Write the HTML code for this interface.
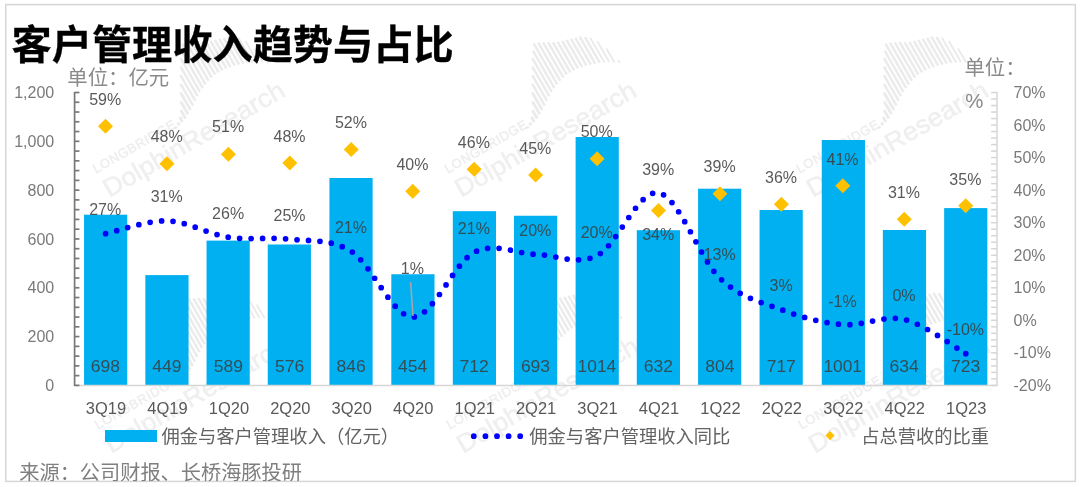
<!DOCTYPE html>
<html lang="zh-CN"><head><meta charset="utf-8"><title>客户管理收入趋势与占比</title>
<style>
html,body{margin:0;padding:0;background:#fff;}
body{width:1080px;height:487px;overflow:hidden;font-family:"Liberation Sans", "Noto Sans CJK SC", sans-serif;}
svg{display:block;}
svg text{font-family:"Liberation Sans", "Noto Sans CJK SC", sans-serif;}
.ttl{font-size:40.2px;font-weight:bold;fill:#000;stroke:#000;stroke-width:0.3px;}
.unit{font-size:20.4px;fill:#8a8a8a;}
.ax{font-size:16px;fill:#7a7a7a;}
.cat{font-size:16px;fill:#595959;}
.dl{font-size:16px;fill:#3c3c3c;fill-opacity:0.85;}
.vl{font-size:16px;fill:#3c3c3c;fill-opacity:0.85;}
.lg{font-size:18.3px;fill:#636363;}
.src{font-size:20.2px;fill:#7f7f7f;}
.wm text{fill:#efefef;}
.wm line{stroke:#ebebeb;}
</style></head><body>
<svg width="1080" height="487" viewBox="0 0 1080 487">
<rect x="0" y="0" width="1080" height="487" fill="#ffffff"/>
<defs><clipPath id="frameclip"><rect x="5" y="4" width="1071" height="477.3"/></clipPath>
</defs>
<g clip-path="url(#frameclip)">
<g class="wm" transform="translate(105.0 194.5) rotate(-30)">
<text x="2.6" y="-22.5" font-size="13" textLength="93" lengthAdjust="spacing" fill="#ececec" stroke="#ececec" stroke-width="0.4">LONGBRIDGE</text>
<text x="2" y="5" font-size="25.5" textLength="205" lengthAdjust="spacingAndGlyphs" stroke="#efefef" stroke-width="0.5">DolphinResearch</text>
<line x1="94.8" y1="-23.7" x2="94.8" y2="-21.5" stroke-width="2.9"/>
<line x1="99.1" y1="-25.9" x2="99.1" y2="-22.7" stroke-width="2.9"/>
<line x1="103.4" y1="-29.7" x2="103.4" y2="-23.9" stroke-width="2.9"/>
<line x1="107.7" y1="-35.0" x2="107.7" y2="-25.5" stroke-width="2.9"/>
<line x1="112.1" y1="-42.7" x2="112.1" y2="-28.0" stroke-width="2.9"/>
<line x1="116.4" y1="-50.5" x2="116.4" y2="-30.4" stroke-width="2.9"/>
<line x1="120.7" y1="-58.0" x2="120.7" y2="-32.9" stroke-width="2.5"/>
<line x1="125.0" y1="-65.6" x2="125.0" y2="-35.8" stroke-width="2.5"/>
<line x1="129.3" y1="-72.9" x2="129.3" y2="-38.8" stroke-width="2.5"/>
<line x1="133.6" y1="-80.2" x2="133.6" y2="-41.4" stroke-width="2.5"/>
<line x1="137.9" y1="-86.5" x2="137.9" y2="-43.3" stroke-width="2.5"/>
<line x1="142.2" y1="-92.2" x2="142.2" y2="-45.2" stroke-width="2.5"/>
<line x1="146.6" y1="-90.8" x2="146.6" y2="-46.7" stroke-width="2.5"/>
<line x1="150.9" y1="-88.6" x2="150.9" y2="-47.7" stroke-width="2.5"/>
<line x1="155.2" y1="-86.2" x2="155.2" y2="-48.7" stroke-width="2.5"/>
<line x1="159.5" y1="-83.7" x2="159.5" y2="-48.9" stroke-width="2.5"/>
<line x1="163.8" y1="-81.8" x2="163.8" y2="-48.9" stroke-width="2.5"/>
<line x1="168.1" y1="-80.3" x2="168.1" y2="-48.5" stroke-width="2.5"/>
<line x1="172.4" y1="-78.9" x2="172.4" y2="-47.6" stroke-width="2.5"/>
<line x1="176.8" y1="-77.7" x2="176.8" y2="-46.7" stroke-width="2.5"/>
<line x1="181.1" y1="-76.4" x2="181.1" y2="-45.4" stroke-width="2.5"/>
<line x1="185.4" y1="-75.2" x2="185.4" y2="-44.1" stroke-width="2.5"/>
<line x1="189.7" y1="-72.1" x2="189.7" y2="-42.4" stroke-width="2.5"/>
<line x1="194.0" y1="-69.0" x2="194.0" y2="-40.5" stroke-width="1.9"/>
<line x1="198.3" y1="-62.7" x2="198.3" y2="-38.4" stroke-width="1.9"/>
<line x1="202.6" y1="-51.6" x2="202.6" y2="-35.4" stroke-width="1.9"/>
<line x1="206.9" y1="-35.7" x2="206.9" y2="-32.4" stroke-width="1.9"/>
</g>
<g class="wm" transform="translate(456.7 194.5) rotate(-30)">
<text x="2.6" y="-22.5" font-size="13" textLength="93" lengthAdjust="spacing" fill="#ececec" stroke="#ececec" stroke-width="0.4">LONGBRIDGE</text>
<text x="2" y="5" font-size="25.5" textLength="205" lengthAdjust="spacingAndGlyphs" stroke="#efefef" stroke-width="0.5">DolphinResearch</text>
<line x1="94.8" y1="-23.7" x2="94.8" y2="-21.5" stroke-width="2.9"/>
<line x1="99.1" y1="-25.9" x2="99.1" y2="-22.7" stroke-width="2.9"/>
<line x1="103.4" y1="-29.7" x2="103.4" y2="-23.9" stroke-width="2.9"/>
<line x1="107.7" y1="-35.0" x2="107.7" y2="-25.5" stroke-width="2.9"/>
<line x1="112.1" y1="-42.7" x2="112.1" y2="-28.0" stroke-width="2.9"/>
<line x1="116.4" y1="-50.5" x2="116.4" y2="-30.4" stroke-width="2.9"/>
<line x1="120.7" y1="-58.0" x2="120.7" y2="-32.9" stroke-width="2.5"/>
<line x1="125.0" y1="-65.6" x2="125.0" y2="-35.8" stroke-width="2.5"/>
<line x1="129.3" y1="-72.9" x2="129.3" y2="-38.8" stroke-width="2.5"/>
<line x1="133.6" y1="-80.2" x2="133.6" y2="-41.4" stroke-width="2.5"/>
<line x1="137.9" y1="-86.5" x2="137.9" y2="-43.3" stroke-width="2.5"/>
<line x1="142.2" y1="-92.2" x2="142.2" y2="-45.2" stroke-width="2.5"/>
<line x1="146.6" y1="-90.8" x2="146.6" y2="-46.7" stroke-width="2.5"/>
<line x1="150.9" y1="-88.6" x2="150.9" y2="-47.7" stroke-width="2.5"/>
<line x1="155.2" y1="-86.2" x2="155.2" y2="-48.7" stroke-width="2.5"/>
<line x1="159.5" y1="-83.7" x2="159.5" y2="-48.9" stroke-width="2.5"/>
<line x1="163.8" y1="-81.8" x2="163.8" y2="-48.9" stroke-width="2.5"/>
<line x1="168.1" y1="-80.3" x2="168.1" y2="-48.5" stroke-width="2.5"/>
<line x1="172.4" y1="-78.9" x2="172.4" y2="-47.6" stroke-width="2.5"/>
<line x1="176.8" y1="-77.7" x2="176.8" y2="-46.7" stroke-width="2.5"/>
<line x1="181.1" y1="-76.4" x2="181.1" y2="-45.4" stroke-width="2.5"/>
<line x1="185.4" y1="-75.2" x2="185.4" y2="-44.1" stroke-width="2.5"/>
<line x1="189.7" y1="-72.1" x2="189.7" y2="-42.4" stroke-width="2.5"/>
<line x1="194.0" y1="-69.0" x2="194.0" y2="-40.5" stroke-width="1.9"/>
<line x1="198.3" y1="-62.7" x2="198.3" y2="-38.4" stroke-width="1.9"/>
<line x1="202.6" y1="-51.6" x2="202.6" y2="-35.4" stroke-width="1.9"/>
<line x1="206.9" y1="-35.7" x2="206.9" y2="-32.4" stroke-width="1.9"/>
</g>
<g class="wm" transform="translate(808.4 194.5) rotate(-30)">
<text x="2.6" y="-22.5" font-size="13" textLength="93" lengthAdjust="spacing" fill="#ececec" stroke="#ececec" stroke-width="0.4">LONGBRIDGE</text>
<text x="2" y="5" font-size="25.5" textLength="205" lengthAdjust="spacingAndGlyphs" stroke="#efefef" stroke-width="0.5">DolphinResearch</text>
<line x1="94.8" y1="-23.7" x2="94.8" y2="-21.5" stroke-width="2.9"/>
<line x1="99.1" y1="-25.9" x2="99.1" y2="-22.7" stroke-width="2.9"/>
<line x1="103.4" y1="-29.7" x2="103.4" y2="-23.9" stroke-width="2.9"/>
<line x1="107.7" y1="-35.0" x2="107.7" y2="-25.5" stroke-width="2.9"/>
<line x1="112.1" y1="-42.7" x2="112.1" y2="-28.0" stroke-width="2.9"/>
<line x1="116.4" y1="-50.5" x2="116.4" y2="-30.4" stroke-width="2.9"/>
<line x1="120.7" y1="-58.0" x2="120.7" y2="-32.9" stroke-width="2.5"/>
<line x1="125.0" y1="-65.6" x2="125.0" y2="-35.8" stroke-width="2.5"/>
<line x1="129.3" y1="-72.9" x2="129.3" y2="-38.8" stroke-width="2.5"/>
<line x1="133.6" y1="-80.2" x2="133.6" y2="-41.4" stroke-width="2.5"/>
<line x1="137.9" y1="-86.5" x2="137.9" y2="-43.3" stroke-width="2.5"/>
<line x1="142.2" y1="-92.2" x2="142.2" y2="-45.2" stroke-width="2.5"/>
<line x1="146.6" y1="-90.8" x2="146.6" y2="-46.7" stroke-width="2.5"/>
<line x1="150.9" y1="-88.6" x2="150.9" y2="-47.7" stroke-width="2.5"/>
<line x1="155.2" y1="-86.2" x2="155.2" y2="-48.7" stroke-width="2.5"/>
<line x1="159.5" y1="-83.7" x2="159.5" y2="-48.9" stroke-width="2.5"/>
<line x1="163.8" y1="-81.8" x2="163.8" y2="-48.9" stroke-width="2.5"/>
<line x1="168.1" y1="-80.3" x2="168.1" y2="-48.5" stroke-width="2.5"/>
<line x1="172.4" y1="-78.9" x2="172.4" y2="-47.6" stroke-width="2.5"/>
<line x1="176.8" y1="-77.7" x2="176.8" y2="-46.7" stroke-width="2.5"/>
<line x1="181.1" y1="-76.4" x2="181.1" y2="-45.4" stroke-width="2.5"/>
<line x1="185.4" y1="-75.2" x2="185.4" y2="-44.1" stroke-width="2.5"/>
<line x1="189.7" y1="-72.1" x2="189.7" y2="-42.4" stroke-width="2.5"/>
<line x1="194.0" y1="-69.0" x2="194.0" y2="-40.5" stroke-width="1.9"/>
<line x1="198.3" y1="-62.7" x2="198.3" y2="-38.4" stroke-width="1.9"/>
<line x1="202.6" y1="-51.6" x2="202.6" y2="-35.4" stroke-width="1.9"/>
<line x1="206.9" y1="-35.7" x2="206.9" y2="-32.4" stroke-width="1.9"/>
</g>
<g class="wm" transform="translate(107.0 450.5) rotate(-30)">
<text x="2.6" y="-22.5" font-size="13" textLength="93" lengthAdjust="spacing" fill="#ececec" stroke="#ececec" stroke-width="0.4">LONGBRIDGE</text>
<text x="2" y="5" font-size="25.5" textLength="205" lengthAdjust="spacingAndGlyphs" stroke="#efefef" stroke-width="0.5">DolphinResearch</text>
<line x1="94.8" y1="-23.7" x2="94.8" y2="-21.5" stroke-width="2.9"/>
<line x1="99.1" y1="-25.9" x2="99.1" y2="-22.7" stroke-width="2.9"/>
<line x1="103.4" y1="-29.7" x2="103.4" y2="-23.9" stroke-width="2.9"/>
<line x1="107.7" y1="-35.0" x2="107.7" y2="-25.5" stroke-width="2.9"/>
<line x1="112.1" y1="-42.7" x2="112.1" y2="-28.0" stroke-width="2.9"/>
<line x1="116.4" y1="-50.5" x2="116.4" y2="-30.4" stroke-width="2.9"/>
<line x1="120.7" y1="-58.0" x2="120.7" y2="-32.9" stroke-width="2.5"/>
<line x1="125.0" y1="-65.6" x2="125.0" y2="-35.8" stroke-width="2.5"/>
<line x1="129.3" y1="-72.9" x2="129.3" y2="-38.8" stroke-width="2.5"/>
<line x1="133.6" y1="-80.2" x2="133.6" y2="-41.4" stroke-width="2.5"/>
<line x1="137.9" y1="-86.5" x2="137.9" y2="-43.3" stroke-width="2.5"/>
<line x1="142.2" y1="-92.2" x2="142.2" y2="-45.2" stroke-width="2.5"/>
<line x1="146.6" y1="-90.8" x2="146.6" y2="-46.7" stroke-width="2.5"/>
<line x1="150.9" y1="-88.6" x2="150.9" y2="-47.7" stroke-width="2.5"/>
<line x1="155.2" y1="-86.2" x2="155.2" y2="-48.7" stroke-width="2.5"/>
<line x1="159.5" y1="-83.7" x2="159.5" y2="-48.9" stroke-width="2.5"/>
<line x1="163.8" y1="-81.8" x2="163.8" y2="-48.9" stroke-width="2.5"/>
<line x1="168.1" y1="-80.3" x2="168.1" y2="-48.5" stroke-width="2.5"/>
<line x1="172.4" y1="-78.9" x2="172.4" y2="-47.6" stroke-width="2.5"/>
<line x1="176.8" y1="-77.7" x2="176.8" y2="-46.7" stroke-width="2.5"/>
<line x1="181.1" y1="-76.4" x2="181.1" y2="-45.4" stroke-width="2.5"/>
<line x1="185.4" y1="-75.2" x2="185.4" y2="-44.1" stroke-width="2.5"/>
<line x1="189.7" y1="-72.1" x2="189.7" y2="-42.4" stroke-width="2.5"/>
<line x1="194.0" y1="-69.0" x2="194.0" y2="-40.5" stroke-width="1.9"/>
<line x1="198.3" y1="-62.7" x2="198.3" y2="-38.4" stroke-width="1.9"/>
<line x1="202.6" y1="-51.6" x2="202.6" y2="-35.4" stroke-width="1.9"/>
<line x1="206.9" y1="-35.7" x2="206.9" y2="-32.4" stroke-width="1.9"/>
</g>
<g class="wm" transform="translate(458.7 450.5) rotate(-30)">
<text x="2.6" y="-22.5" font-size="13" textLength="93" lengthAdjust="spacing" fill="#ececec" stroke="#ececec" stroke-width="0.4">LONGBRIDGE</text>
<text x="2" y="5" font-size="25.5" textLength="205" lengthAdjust="spacingAndGlyphs" stroke="#efefef" stroke-width="0.5">DolphinResearch</text>
<line x1="94.8" y1="-23.7" x2="94.8" y2="-21.5" stroke-width="2.9"/>
<line x1="99.1" y1="-25.9" x2="99.1" y2="-22.7" stroke-width="2.9"/>
<line x1="103.4" y1="-29.7" x2="103.4" y2="-23.9" stroke-width="2.9"/>
<line x1="107.7" y1="-35.0" x2="107.7" y2="-25.5" stroke-width="2.9"/>
<line x1="112.1" y1="-42.7" x2="112.1" y2="-28.0" stroke-width="2.9"/>
<line x1="116.4" y1="-50.5" x2="116.4" y2="-30.4" stroke-width="2.9"/>
<line x1="120.7" y1="-58.0" x2="120.7" y2="-32.9" stroke-width="2.5"/>
<line x1="125.0" y1="-65.6" x2="125.0" y2="-35.8" stroke-width="2.5"/>
<line x1="129.3" y1="-72.9" x2="129.3" y2="-38.8" stroke-width="2.5"/>
<line x1="133.6" y1="-80.2" x2="133.6" y2="-41.4" stroke-width="2.5"/>
<line x1="137.9" y1="-86.5" x2="137.9" y2="-43.3" stroke-width="2.5"/>
<line x1="142.2" y1="-92.2" x2="142.2" y2="-45.2" stroke-width="2.5"/>
<line x1="146.6" y1="-90.8" x2="146.6" y2="-46.7" stroke-width="2.5"/>
<line x1="150.9" y1="-88.6" x2="150.9" y2="-47.7" stroke-width="2.5"/>
<line x1="155.2" y1="-86.2" x2="155.2" y2="-48.7" stroke-width="2.5"/>
<line x1="159.5" y1="-83.7" x2="159.5" y2="-48.9" stroke-width="2.5"/>
<line x1="163.8" y1="-81.8" x2="163.8" y2="-48.9" stroke-width="2.5"/>
<line x1="168.1" y1="-80.3" x2="168.1" y2="-48.5" stroke-width="2.5"/>
<line x1="172.4" y1="-78.9" x2="172.4" y2="-47.6" stroke-width="2.5"/>
<line x1="176.8" y1="-77.7" x2="176.8" y2="-46.7" stroke-width="2.5"/>
<line x1="181.1" y1="-76.4" x2="181.1" y2="-45.4" stroke-width="2.5"/>
<line x1="185.4" y1="-75.2" x2="185.4" y2="-44.1" stroke-width="2.5"/>
<line x1="189.7" y1="-72.1" x2="189.7" y2="-42.4" stroke-width="2.5"/>
<line x1="194.0" y1="-69.0" x2="194.0" y2="-40.5" stroke-width="1.9"/>
<line x1="198.3" y1="-62.7" x2="198.3" y2="-38.4" stroke-width="1.9"/>
<line x1="202.6" y1="-51.6" x2="202.6" y2="-35.4" stroke-width="1.9"/>
<line x1="206.9" y1="-35.7" x2="206.9" y2="-32.4" stroke-width="1.9"/>
</g>
<g class="wm" transform="translate(810.4 450.5) rotate(-30)">
<text x="2.6" y="-22.5" font-size="13" textLength="93" lengthAdjust="spacing" fill="#ececec" stroke="#ececec" stroke-width="0.4">LONGBRIDGE</text>
<text x="2" y="5" font-size="25.5" textLength="205" lengthAdjust="spacingAndGlyphs" stroke="#efefef" stroke-width="0.5">DolphinResearch</text>
<line x1="94.8" y1="-23.7" x2="94.8" y2="-21.5" stroke-width="2.9"/>
<line x1="99.1" y1="-25.9" x2="99.1" y2="-22.7" stroke-width="2.9"/>
<line x1="103.4" y1="-29.7" x2="103.4" y2="-23.9" stroke-width="2.9"/>
<line x1="107.7" y1="-35.0" x2="107.7" y2="-25.5" stroke-width="2.9"/>
<line x1="112.1" y1="-42.7" x2="112.1" y2="-28.0" stroke-width="2.9"/>
<line x1="116.4" y1="-50.5" x2="116.4" y2="-30.4" stroke-width="2.9"/>
<line x1="120.7" y1="-58.0" x2="120.7" y2="-32.9" stroke-width="2.5"/>
<line x1="125.0" y1="-65.6" x2="125.0" y2="-35.8" stroke-width="2.5"/>
<line x1="129.3" y1="-72.9" x2="129.3" y2="-38.8" stroke-width="2.5"/>
<line x1="133.6" y1="-80.2" x2="133.6" y2="-41.4" stroke-width="2.5"/>
<line x1="137.9" y1="-86.5" x2="137.9" y2="-43.3" stroke-width="2.5"/>
<line x1="142.2" y1="-92.2" x2="142.2" y2="-45.2" stroke-width="2.5"/>
<line x1="146.6" y1="-90.8" x2="146.6" y2="-46.7" stroke-width="2.5"/>
<line x1="150.9" y1="-88.6" x2="150.9" y2="-47.7" stroke-width="2.5"/>
<line x1="155.2" y1="-86.2" x2="155.2" y2="-48.7" stroke-width="2.5"/>
<line x1="159.5" y1="-83.7" x2="159.5" y2="-48.9" stroke-width="2.5"/>
<line x1="163.8" y1="-81.8" x2="163.8" y2="-48.9" stroke-width="2.5"/>
<line x1="168.1" y1="-80.3" x2="168.1" y2="-48.5" stroke-width="2.5"/>
<line x1="172.4" y1="-78.9" x2="172.4" y2="-47.6" stroke-width="2.5"/>
<line x1="176.8" y1="-77.7" x2="176.8" y2="-46.7" stroke-width="2.5"/>
<line x1="181.1" y1="-76.4" x2="181.1" y2="-45.4" stroke-width="2.5"/>
<line x1="185.4" y1="-75.2" x2="185.4" y2="-44.1" stroke-width="2.5"/>
<line x1="189.7" y1="-72.1" x2="189.7" y2="-42.4" stroke-width="2.5"/>
<line x1="194.0" y1="-69.0" x2="194.0" y2="-40.5" stroke-width="1.9"/>
<line x1="198.3" y1="-62.7" x2="198.3" y2="-38.4" stroke-width="1.9"/>
<line x1="202.6" y1="-51.6" x2="202.6" y2="-35.4" stroke-width="1.9"/>
<line x1="206.9" y1="-35.7" x2="206.9" y2="-32.4" stroke-width="1.9"/>
</g>
</g>
<rect x="5.75" y="4.6" width="1069.6" height="476.8" fill="none" stroke="#d6d6d6" stroke-width="1.5"/>
<text class="ttl" x="11.5" y="59.4">客户管理收入趋势与占比</text>
<text class="unit" x="67.3" y="84.6">单位：亿元</text>
<text class="unit" x="964.4" y="74.6">单位：</text>
<text class="unit" x="965.3" y="108.2" font-size="21">%</text>
<g fill="#00b0f0">
<rect x="84.05" y="214.70" width="43.20" height="170.70"/>
<rect x="145.34" y="275.10" width="43.20" height="110.30"/>
<rect x="206.54" y="240.60" width="43.20" height="144.80"/>
<rect x="267.73" y="244.50" width="43.20" height="140.90"/>
<rect x="329.42" y="178.00" width="43.20" height="207.40"/>
<rect x="391.31" y="274.25" width="43.20" height="111.15"/>
<rect x="452.80" y="211.20" width="43.20" height="174.20"/>
<rect x="514.00" y="215.75" width="43.20" height="169.65"/>
<rect x="575.60" y="137.00" width="43.20" height="248.40"/>
<rect x="636.78" y="230.20" width="43.20" height="155.20"/>
<rect x="698.08" y="188.70" width="43.20" height="196.70"/>
<rect x="759.57" y="210.00" width="43.20" height="175.40"/>
<rect x="821.76" y="140.00" width="43.20" height="245.40"/>
<rect x="882.86" y="230.00" width="43.20" height="155.40"/>
<rect x="944.15" y="208.10" width="43.20" height="177.30"/>
</g>
<g stroke="#d6d6d6" stroke-width="1.5" fill="none">
<line x1="74.2" y1="385.40" x2="997.6" y2="385.40"/>
<line x1="997" y1="91.90" x2="997" y2="386.00"/>
<line x1="991.1" y1="385.40" x2="997" y2="385.40"/>
<line x1="991.1" y1="378.89" x2="997" y2="378.89"/>
<line x1="991.1" y1="372.38" x2="997" y2="372.38"/>
<line x1="991.1" y1="365.87" x2="997" y2="365.87"/>
<line x1="991.1" y1="359.36" x2="997" y2="359.36"/>
<line x1="991.1" y1="352.86" x2="997" y2="352.86"/>
<line x1="991.1" y1="346.35" x2="997" y2="346.35"/>
<line x1="991.1" y1="339.84" x2="997" y2="339.84"/>
<line x1="991.1" y1="333.33" x2="997" y2="333.33"/>
<line x1="991.1" y1="326.82" x2="997" y2="326.82"/>
<line x1="991.1" y1="320.31" x2="997" y2="320.31"/>
<line x1="991.1" y1="313.80" x2="997" y2="313.80"/>
<line x1="991.1" y1="307.29" x2="997" y2="307.29"/>
<line x1="991.1" y1="300.78" x2="997" y2="300.78"/>
<line x1="991.1" y1="294.28" x2="997" y2="294.28"/>
<line x1="991.1" y1="287.77" x2="997" y2="287.77"/>
<line x1="991.1" y1="281.26" x2="997" y2="281.26"/>
<line x1="991.1" y1="274.75" x2="997" y2="274.75"/>
<line x1="991.1" y1="268.24" x2="997" y2="268.24"/>
<line x1="991.1" y1="261.73" x2="997" y2="261.73"/>
<line x1="991.1" y1="255.22" x2="997" y2="255.22"/>
<line x1="991.1" y1="248.71" x2="997" y2="248.71"/>
<line x1="991.1" y1="242.20" x2="997" y2="242.20"/>
<line x1="991.1" y1="235.70" x2="997" y2="235.70"/>
<line x1="991.1" y1="229.19" x2="997" y2="229.19"/>
<line x1="991.1" y1="222.68" x2="997" y2="222.68"/>
<line x1="991.1" y1="216.17" x2="997" y2="216.17"/>
<line x1="991.1" y1="209.66" x2="997" y2="209.66"/>
<line x1="991.1" y1="203.15" x2="997" y2="203.15"/>
<line x1="991.1" y1="196.64" x2="997" y2="196.64"/>
<line x1="991.1" y1="190.13" x2="997" y2="190.13"/>
<line x1="991.1" y1="183.62" x2="997" y2="183.62"/>
<line x1="991.1" y1="177.12" x2="997" y2="177.12"/>
<line x1="991.1" y1="170.61" x2="997" y2="170.61"/>
<line x1="991.1" y1="164.10" x2="997" y2="164.10"/>
<line x1="991.1" y1="157.59" x2="997" y2="157.59"/>
<line x1="991.1" y1="151.08" x2="997" y2="151.08"/>
<line x1="991.1" y1="144.57" x2="997" y2="144.57"/>
<line x1="991.1" y1="138.06" x2="997" y2="138.06"/>
<line x1="991.1" y1="131.55" x2="997" y2="131.55"/>
<line x1="991.1" y1="125.04" x2="997" y2="125.04"/>
<line x1="991.1" y1="118.54" x2="997" y2="118.54"/>
<line x1="991.1" y1="112.03" x2="997" y2="112.03"/>
<line x1="991.1" y1="105.52" x2="997" y2="105.52"/>
<line x1="991.1" y1="99.01" x2="997" y2="99.01"/>
<line x1="991.1" y1="92.50" x2="997" y2="92.50"/>
</g>
<g stroke="#787878" stroke-width="1.7" fill="none">
<line x1="74.6" y1="91.90" x2="74.6" y2="386.00"/>
<line x1="74.6" y1="385.40" x2="79.4" y2="385.40"/>
<line x1="74.6" y1="375.64" x2="79.4" y2="375.64"/>
<line x1="74.6" y1="365.87" x2="79.4" y2="365.87"/>
<line x1="74.6" y1="356.11" x2="79.4" y2="356.11"/>
<line x1="74.6" y1="346.35" x2="79.4" y2="346.35"/>
<line x1="74.6" y1="336.58" x2="79.4" y2="336.58"/>
<line x1="74.6" y1="326.82" x2="79.4" y2="326.82"/>
<line x1="74.6" y1="317.06" x2="79.4" y2="317.06"/>
<line x1="74.6" y1="307.29" x2="79.4" y2="307.29"/>
<line x1="74.6" y1="297.53" x2="79.4" y2="297.53"/>
<line x1="74.6" y1="287.77" x2="79.4" y2="287.77"/>
<line x1="74.6" y1="278.00" x2="79.4" y2="278.00"/>
<line x1="74.6" y1="268.24" x2="79.4" y2="268.24"/>
<line x1="74.6" y1="258.48" x2="79.4" y2="258.48"/>
<line x1="74.6" y1="248.71" x2="79.4" y2="248.71"/>
<line x1="74.6" y1="238.95" x2="79.4" y2="238.95"/>
<line x1="74.6" y1="229.19" x2="79.4" y2="229.19"/>
<line x1="74.6" y1="219.42" x2="79.4" y2="219.42"/>
<line x1="74.6" y1="209.66" x2="79.4" y2="209.66"/>
<line x1="74.6" y1="199.90" x2="79.4" y2="199.90"/>
<line x1="74.6" y1="190.13" x2="79.4" y2="190.13"/>
<line x1="74.6" y1="180.37" x2="79.4" y2="180.37"/>
<line x1="74.6" y1="170.61" x2="79.4" y2="170.61"/>
<line x1="74.6" y1="160.84" x2="79.4" y2="160.84"/>
<line x1="74.6" y1="151.08" x2="79.4" y2="151.08"/>
<line x1="74.6" y1="141.32" x2="79.4" y2="141.32"/>
<line x1="74.6" y1="131.55" x2="79.4" y2="131.55"/>
<line x1="74.6" y1="121.79" x2="79.4" y2="121.79"/>
<line x1="74.6" y1="112.03" x2="79.4" y2="112.03"/>
<line x1="74.6" y1="102.26" x2="79.4" y2="102.26"/>
<line x1="74.6" y1="92.50" x2="79.4" y2="92.50"/>
</g>
<text class="ax" x="54.2" y="391.00" text-anchor="end">0</text>
<text class="ax" x="54.2" y="342.18" text-anchor="end">200</text>
<text class="ax" x="54.2" y="293.37" text-anchor="end">400</text>
<text class="ax" x="54.2" y="244.55" text-anchor="end">600</text>
<text class="ax" x="54.2" y="195.73" text-anchor="end">800</text>
<text class="ax" x="54.2" y="146.92" text-anchor="end">1,000</text>
<text class="ax" x="54.2" y="98.10" text-anchor="end">1,200</text>
<text class="ax" x="1013.5" y="391.00">-20%</text>
<text class="ax" x="1013.5" y="358.46">-10%</text>
<text class="ax" x="1013.5" y="325.91">0%</text>
<text class="ax" x="1013.5" y="293.37">10%</text>
<text class="ax" x="1013.5" y="260.82">20%</text>
<text class="ax" x="1013.5" y="228.28">30%</text>
<text class="ax" x="1013.5" y="195.73">40%</text>
<text class="ax" x="1013.5" y="163.19">50%</text>
<text class="ax" x="1013.5" y="130.64">60%</text>
<text class="ax" x="1013.5" y="98.10">70%</text>
<text class="cat" x="106.02" y="414.3" text-anchor="middle" textLength="40.3" lengthAdjust="spacingAndGlyphs">3Q19</text>
<text class="cat" x="167.46" y="414.3" text-anchor="middle" textLength="40.3" lengthAdjust="spacingAndGlyphs">4Q19</text>
<text class="cat" x="228.90" y="414.3" text-anchor="middle" textLength="40.3" lengthAdjust="spacingAndGlyphs">1Q20</text>
<text class="cat" x="290.34" y="414.3" text-anchor="middle" textLength="40.3" lengthAdjust="spacingAndGlyphs">2Q20</text>
<text class="cat" x="351.78" y="414.3" text-anchor="middle" textLength="40.3" lengthAdjust="spacingAndGlyphs">3Q20</text>
<text class="cat" x="413.22" y="414.3" text-anchor="middle" textLength="40.3" lengthAdjust="spacingAndGlyphs">4Q20</text>
<text class="cat" x="474.66" y="414.3" text-anchor="middle" textLength="40.3" lengthAdjust="spacingAndGlyphs">1Q21</text>
<text class="cat" x="536.10" y="414.3" text-anchor="middle" textLength="40.3" lengthAdjust="spacingAndGlyphs">2Q21</text>
<text class="cat" x="597.54" y="414.3" text-anchor="middle" textLength="40.3" lengthAdjust="spacingAndGlyphs">3Q21</text>
<text class="cat" x="658.98" y="414.3" text-anchor="middle" textLength="40.3" lengthAdjust="spacingAndGlyphs">4Q21</text>
<text class="cat" x="720.42" y="414.3" text-anchor="middle" textLength="40.3" lengthAdjust="spacingAndGlyphs">1Q22</text>
<text class="cat" x="781.86" y="414.3" text-anchor="middle" textLength="40.3" lengthAdjust="spacingAndGlyphs">2Q22</text>
<text class="cat" x="843.30" y="414.3" text-anchor="middle" textLength="40.3" lengthAdjust="spacingAndGlyphs">3Q22</text>
<text class="cat" x="904.74" y="414.3" text-anchor="middle" textLength="40.3" lengthAdjust="spacingAndGlyphs">4Q22</text>
<text class="cat" x="966.18" y="414.3" text-anchor="middle" textLength="40.3" lengthAdjust="spacingAndGlyphs">1Q23</text>
<text class="vl" x="105.42" y="372" text-anchor="middle" textLength="29.2" lengthAdjust="spacingAndGlyphs">698</text>
<text class="vl" x="166.86" y="372" text-anchor="middle" textLength="29.2" lengthAdjust="spacingAndGlyphs">449</text>
<text class="vl" x="228.30" y="372" text-anchor="middle" textLength="29.2" lengthAdjust="spacingAndGlyphs">589</text>
<text class="vl" x="289.74" y="372" text-anchor="middle" textLength="29.2" lengthAdjust="spacingAndGlyphs">576</text>
<text class="vl" x="351.18" y="372" text-anchor="middle" textLength="29.2" lengthAdjust="spacingAndGlyphs">846</text>
<text class="vl" x="412.62" y="372" text-anchor="middle" textLength="29.2" lengthAdjust="spacingAndGlyphs">454</text>
<text class="vl" x="474.06" y="372" text-anchor="middle" textLength="29.2" lengthAdjust="spacingAndGlyphs">712</text>
<text class="vl" x="535.50" y="372" text-anchor="middle" textLength="29.2" lengthAdjust="spacingAndGlyphs">693</text>
<text class="vl" x="596.94" y="372" text-anchor="middle" textLength="38.6" lengthAdjust="spacingAndGlyphs">1014</text>
<text class="vl" x="658.38" y="372" text-anchor="middle" textLength="29.2" lengthAdjust="spacingAndGlyphs">632</text>
<text class="vl" x="719.82" y="372" text-anchor="middle" textLength="29.2" lengthAdjust="spacingAndGlyphs">804</text>
<text class="vl" x="781.26" y="372" text-anchor="middle" textLength="29.2" lengthAdjust="spacingAndGlyphs">717</text>
<text class="vl" x="842.70" y="372" text-anchor="middle" textLength="38.6" lengthAdjust="spacingAndGlyphs">1001</text>
<text class="vl" x="904.14" y="372" text-anchor="middle" textLength="29.2" lengthAdjust="spacingAndGlyphs">634</text>
<text class="vl" x="965.58" y="372" text-anchor="middle" textLength="29.2" lengthAdjust="spacingAndGlyphs">723</text>
<path d="M105.62 233.70 C115.86 231.55 146.58 220.22 167.06 220.80 C187.54 221.38 208.02 234.13 228.50 237.20 C248.98 240.27 269.46 236.82 289.94 239.20 C310.42 241.58 330.90 238.53 351.38 251.50 C371.86 264.47 392.34 316.87 412.82 317.00 C433.30 317.13 453.78 262.75 474.26 252.30 C494.74 241.85 515.22 253.77 535.70 254.30 C556.18 254.83 576.66 265.75 597.14 255.50 C617.62 245.25 638.10 188.98 658.58 192.80 C679.06 196.62 699.54 258.92 720.02 278.40 C740.50 297.88 760.98 302.00 781.46 309.70 C801.94 317.40 822.42 322.97 842.90 324.60 C863.38 326.23 883.86 314.65 904.34 319.50 C924.82 324.35 955.54 348.00 965.78 353.70" fill="none" stroke="#0000ff" stroke-width="5.7" stroke-linecap="round" stroke-dasharray="0 11.4936"/>
<circle cx="965.78" cy="353.70" r="2.85" fill="#0000ff"/>
<line x1="410.6" y1="282" x2="413" y2="316" stroke="#a6a6a6" stroke-width="1.6"/>
<g fill="#ffc000">
<path d="M105.52 118.75 L113.02 126.25 L105.52 133.75 L98.02 126.25 Z"/>
<path d="M166.96 156.25 L174.46 163.75 L166.96 171.25 L159.46 163.75 Z"/>
<path d="M228.40 146.75 L235.90 154.25 L228.40 161.75 L220.90 154.25 Z"/>
<path d="M289.84 155.60 L297.34 163.10 L289.84 170.60 L282.34 163.10 Z"/>
<path d="M351.28 142.00 L358.78 149.50 L351.28 157.00 L343.78 149.50 Z"/>
<path d="M412.72 183.75 L420.22 191.25 L412.72 198.75 L405.22 191.25 Z"/>
<path d="M474.16 161.75 L481.66 169.25 L474.16 176.75 L466.66 169.25 Z"/>
<path d="M535.60 167.50 L543.10 175.00 L535.60 182.50 L528.10 175.00 Z"/>
<path d="M597.04 151.25 L604.54 158.75 L597.04 166.25 L589.54 158.75 Z"/>
<path d="M658.48 203.00 L665.98 210.50 L658.48 218.00 L650.98 210.50 Z"/>
<path d="M719.92 186.25 L727.42 193.75 L719.92 201.25 L712.42 193.75 Z"/>
<path d="M781.36 196.75 L788.86 204.25 L781.36 211.75 L773.86 204.25 Z"/>
<path d="M842.80 178.25 L850.30 185.75 L842.80 193.25 L835.30 185.75 Z"/>
<path d="M904.24 211.75 L911.74 219.25 L904.24 226.75 L896.74 219.25 Z"/>
<path d="M965.68 198.25 L973.18 205.75 L965.68 213.25 L958.18 205.75 Z"/>
</g>
<text class="dl" x="105.22" y="105.30" text-anchor="middle">59%</text>
<text class="dl" x="166.66" y="142.20" text-anchor="middle">48%</text>
<text class="dl" x="228.10" y="132.00" text-anchor="middle">51%</text>
<text class="dl" x="289.54" y="141.80" text-anchor="middle">48%</text>
<text class="dl" x="350.98" y="128.20" text-anchor="middle">52%</text>
<text class="dl" x="412.42" y="170.00" text-anchor="middle">40%</text>
<text class="dl" x="473.86" y="148.00" text-anchor="middle">46%</text>
<text class="dl" x="535.30" y="153.50" text-anchor="middle">45%</text>
<text class="dl" x="596.74" y="137.00" text-anchor="middle">50%</text>
<text class="dl" x="658.18" y="240.30" text-anchor="middle">34%</text>
<text class="dl" x="719.62" y="171.70" text-anchor="middle">39%</text>
<text class="dl" x="781.06" y="183.40" text-anchor="middle">36%</text>
<text class="dl" x="842.50" y="164.70" text-anchor="middle">41%</text>
<text class="dl" x="903.94" y="197.80" text-anchor="middle">31%</text>
<text class="dl" x="965.38" y="184.80" text-anchor="middle">35%</text>
<text class="dl" x="105.22" y="214.50" text-anchor="middle">27%</text>
<text class="dl" x="166.66" y="201.75" text-anchor="middle">31%</text>
<text class="dl" x="228.10" y="218.75" text-anchor="middle">26%</text>
<text class="dl" x="289.54" y="220.50" text-anchor="middle">25%</text>
<text class="dl" x="350.98" y="233.00" text-anchor="middle">21%</text>
<text class="dl" x="412.42" y="274.25" text-anchor="middle">1%</text>
<text class="dl" x="473.86" y="234.25" text-anchor="middle">21%</text>
<text class="dl" x="535.30" y="236.25" text-anchor="middle">20%</text>
<text class="dl" x="596.74" y="237.50" text-anchor="middle">20%</text>
<text class="dl" x="658.18" y="174.70" text-anchor="middle">39%</text>
<text class="dl" x="719.62" y="259.50" text-anchor="middle">13%</text>
<text class="dl" x="781.06" y="291.25" text-anchor="middle">3%</text>
<text class="dl" x="842.50" y="306.80" text-anchor="middle">-1%</text>
<text class="dl" x="903.94" y="301.30" text-anchor="middle">0%</text>
<text class="dl" x="965.38" y="334.50" text-anchor="middle">-10%</text>
<rect x="105" y="430" width="52" height="12" fill="#00b0f0"/>
<text class="lg" x="161.4" y="442.7">佣金与客户管理收入（亿元）</text>
<path d="M473.8 436.2 H521" fill="none" stroke="#0000ff" stroke-width="5.8" stroke-linecap="round" stroke-dasharray="0 11.6"/>
<text class="lg" x="529.3" y="442.7">佣金与客户管理收入同比</text>
<path d="M830 431 L834.6 435.6 L830 440.2 L825.4 435.6 Z" fill="#ffc000"/>
<text class="lg" x="861.2" y="442.7">占总营收的比重</text>
<g clip-path="url(#frameclip)"><text class="src" x="19.3" y="479.7">来源：公司财报、长桥海豚投研</text></g>
</svg>
</body></html>
